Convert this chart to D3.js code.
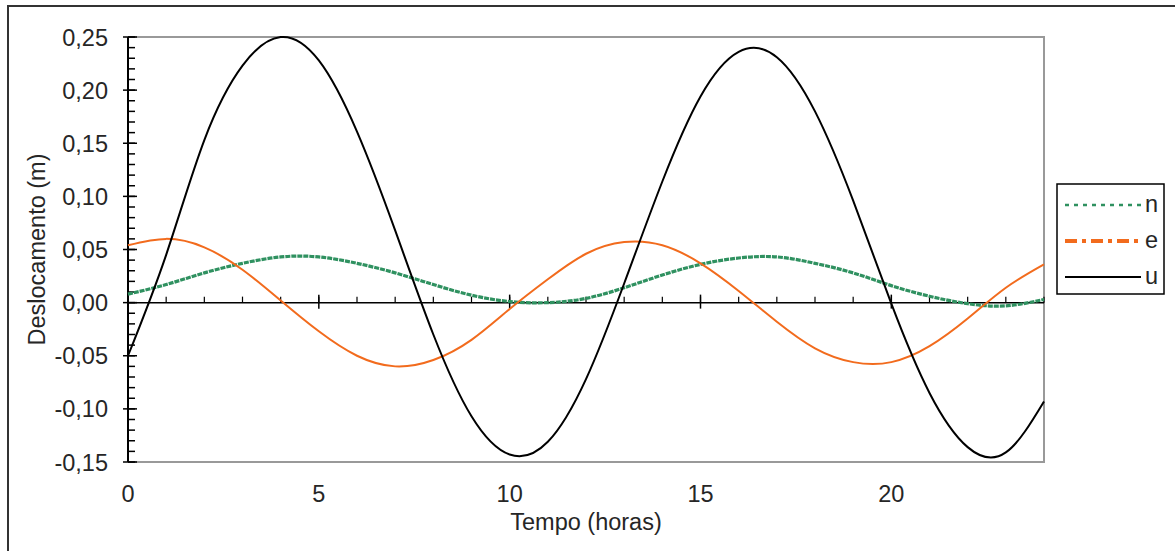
<!DOCTYPE html>
<html>
<head>
<meta charset="utf-8">
<script src="https://cdn.jsdelivr.net/npm/d3@7"></script>
<style>
body{margin:0;background:#fff}
svg text{font-family:"Liberation Sans",Arial,sans-serif;fill:#262626;font-size:23.5px}
</style>
</head>
<body>
<div id="chart"></div>
<script>
// horas
var hours = [0,1,2,3,4,5,6,7,8,9,10,11,12,13,14,15,16,17,18,19,20,21,22,23,24]
// deslocamentos (m)
var nVals = [0.008,0.017,0.028,0.037,0.043,0.043,0.037,0.028,0.017,0.007,0.001,0.000,0.004,0.014,0.026,0.036,0.042,0.043,0.037,0.028,0.016,0.006,-0.001,-0.003,0.003]
var eVals = [0.054,0.060,0.052,0.031,0.002,-0.027,-0.050,-0.060,-0.054,-0.035,-0.006,0.022,0.046,0.057,0.054,0.037,0.011,-0.018,-0.043,-0.056,-0.056,-0.041,-0.015,0.014,0.036]
var uVals = [-0.050,0.045,0.153,0.223,0.250,0.228,0.161,0.068,-0.030,-0.107,-0.143,-0.131,-0.072,0.018,0.114,0.194,0.236,0.231,0.180,0.096,-0.001,-0.085,-0.136,-0.141,-0.093]
var yTicks = [-0.15,-0.10,-0.05,0.00,0.05,0.10,0.15,0.20,0.25]
var xTicks = [0,5,10,15,20]
var names = ['n','e','u']

var W = 1175, H = 551
var pLeft = 128, pRight = 1044, pTop = 37, pBottom = 462
var x = d3.scaleLinear().domain([0,24]).range([pLeft,pRight])
var y = d3.scaleLinear().domain([-0.15,0.25]).range([pBottom,pTop])
var fmt = v => v.toFixed(2).replace('.',',')

var svg = d3.select('#chart').append('svg')
	.attr('width',W).attr('height',H)

// moldura externa
svg.append('path').attr('d','M8,'+H+'V6H'+W)
	.attr('fill','none').attr('stroke','#333').attr('stroke-width',2)

// area do grafico
svg.append('path')
	.attr('d','M'+pLeft+','+pTop+'H'+pRight+'V'+pBottom+'H'+pLeft)
	.attr('fill','none').attr('stroke','#999').attr('stroke-width',2)

// eixo y
var yMinor = d3.range(-0.15,0.2501,0.01)
svg.append('g').selectAll('line').data(yMinor).join('line')
	.attr('x1',pLeft).attr('x2',pLeft+7)
	.attr('y1',d=>y(d)).attr('y2',d=>y(d))
	.attr('stroke','#000').attr('stroke-width',1.5)
svg.append('g').selectAll('line').data(yTicks).join('line')
	.attr('x1',pLeft-5).attr('x2',pLeft+9)
	.attr('y1',d=>y(d)).attr('y2',d=>y(d))
	.attr('stroke','#000').attr('stroke-width',1.5)
svg.append('g').selectAll('text').data(yTicks).join('text')
	.attr('x',108).attr('y',d=>y(d)+8.5)
	.attr('text-anchor','end')
	.text(fmt)
svg.append('line').attr('x1',pLeft).attr('x2',pLeft).attr('y1',pTop).attr('y2',pBottom)
	.attr('stroke','#000').attr('stroke-width',2)

// eixo x (em y=0)
var x0 = y(0)
svg.append('line').attr('x1',pLeft).attr('x2',pRight).attr('y1',x0).attr('y2',x0)
	.attr('stroke','#000').attr('stroke-width',1.5)
svg.append('g').selectAll('line').data(hours).join('line')
	.attr('x1',d=>x(d)).attr('x2',d=>x(d))
	.attr('y1',x0-6).attr('y2',x0)
	.attr('stroke','#000').attr('stroke-width',1.2)
svg.append('g').selectAll('line').data(xTicks).join('line')
	.attr('x1',d=>x(d)).attr('x2',d=>x(d))
	.attr('y1',x0-8).attr('y2',x0+6)
	.attr('stroke','#000').attr('stroke-width',1.5)
svg.append('g').selectAll('text').data(xTicks).join('text')
	.attr('x',d=>x(d)).attr('y',502)
	.attr('text-anchor','middle')
	.text(d=>d)

// titulos
svg.append('text').attr('x',(pLeft+pRight)/2).attr('y',530)
	.attr('text-anchor','middle')
	.text('Tempo (horas)')
svg.append('text')
	.attr('transform','translate(45,'+((pTop+pBottom)/2)+') rotate(-90)')
	.attr('text-anchor','middle')
	.text('Deslocamento (m)')

// series
var line = vals => d3.line().curve(d3.curveNatural)
	.x((d,i)=>x(hours[i])).y(d=>y(d))(vals)
var plot = svg.append('g')
plot.append('path').attr('d',line(nVals))
	.attr('fill','none').attr('stroke','#2f9160').attr('stroke-width',3.2)
	.attr('stroke-dasharray','5,1')
plot.append('path').attr('d',line(eVals))
	.attr('fill','none').attr('stroke','#f26b1d').attr('stroke-width',2)
plot.append('path').attr('d',line(uVals))
	.attr('fill','none').attr('stroke','#000').attr('stroke-width',2)

// legenda
var lg = svg.append('g')
lg.append('rect').attr('x',1057).attr('y',184).attr('width',107).attr('height',110)
	.attr('fill','#fff').attr('stroke','#000').attr('stroke-width',1.5)
var lgY = [205,241,277]
var lgStyle = [
	{c:'#2f9160',w:2.5,d:'4,5'},
	{c:'#f26b1d',w:4,d:'12,5,4,5'},
	{c:'#000',w:2,d:null}
]
names.forEach((nm,i)=>{
	lg.append('line').attr('x1',1065).attr('x2',1141)
		.attr('y1',lgY[i]).attr('y2',lgY[i])
		.attr('stroke',lgStyle[i].c).attr('stroke-width',lgStyle[i].w)
		.attr('stroke-dasharray',lgStyle[i].d)
	lg.append('text').attr('x',1145).attr('y',lgY[i]+7)
		.text(nm)
})
</script>
</body>
</html>
